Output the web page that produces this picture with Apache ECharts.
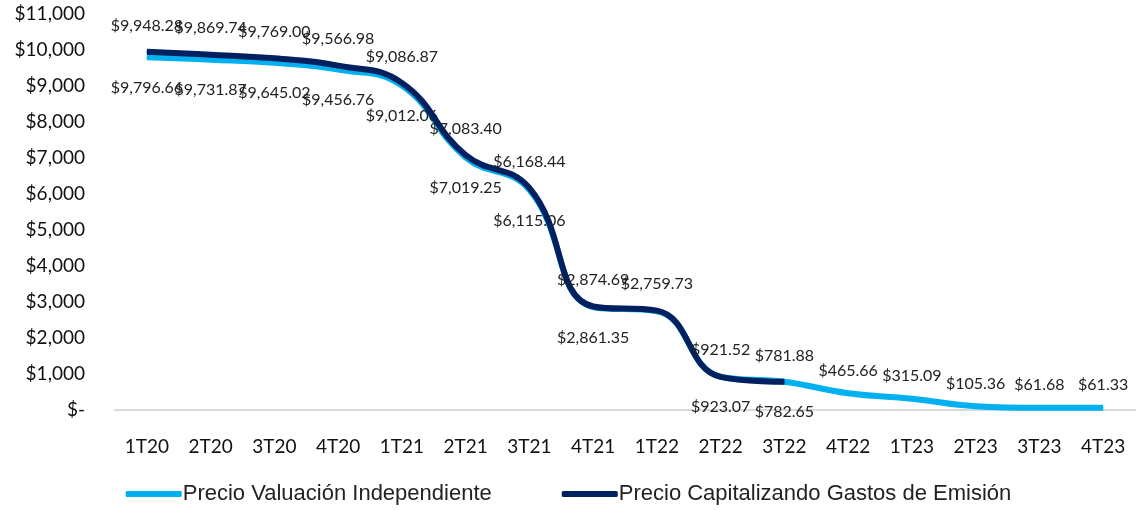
<!DOCTYPE html>
<html lang="es">
<head>
    <meta charset="UTF-8">
    <title>Precio</title>
    <script src="https://cdn.jsdelivr.net/npm/echarts@6/dist/echarts.min.js"></script>
    <style>
        * { margin: 0; padding: 0; }
        body { background: #fff; }
        #chart { width: 1137px; height: 510px; }
    </style>
</head>
<body>
    <div id="chart"></div>
<script>
    var quarters = ['1T20', '2T20', '3T20', '4T20', '1T21', '2T21', '3T21', '4T21',
        '1T22', '2T22', '3T22', '4T22', '1T23', '2T23', '3T23', '4T23'];
    // Precio Valuación Independiente
    var valuacion = [9796.66, 9731.87, 9645.02, 9456.76, 9012.06, 7019.25, 6115.06, 2861.35,
        2745.00, 923.07, 782.65, 465.66, 315.09, 105.36, 61.68, 61.33];
    // Precio Capitalizando Gastos de Emisión (solo hasta 3T22)
    var capitalizando = [9948.28, 9869.74, 9769.00, 9566.98, 9086.87, 7083.40, 6168.44, 2874.69,
        2759.73, 921.52, 781.88];
    // punto sin etiqueta visible en la imagen
    var hiddenLabel = ['1T22'];
    var yTicks = [0, 1000, 2000, 3000, 4000, 5000, 6000, 7000, 8000, 9000, 10000, 11000];

    function money(v) {
        return '$' + v.toLocaleString('en-US', { minimumFractionDigits: 2, maximumFractionDigits: 2 });
    }

    // etiquetas abajo mientras la otra serie existe, arriba despues
    var lightData = valuacion.map(function (v, i) {
        var below = i < capitalizando.length;
        var item = { value: v, label: { position: below ? 'bottom' : 'top', distance: below ? 22 : 14 } };
        if (hiddenLabel.indexOf(quarters[i]) >= 0) item.label.show = false;
        return item;
    });

    var chart = echarts.init(document.getElementById('chart'));
    var font = 'Lato, "Noto Sans", sans-serif';

    chart.setOption({
        animation: false,
        grid: { left: 115, right: 2, top: 14, bottom: 100 },
        legend: {
            bottom: 0,
            left: 'center',
            itemWidth: 56,
            itemHeight: 6,
            itemGap: 70,
            icon: 'roundRect',
            textStyle: { fontFamily: '"Liberation Sans", sans-serif', fontSize: 22, color: '#222', padding: [0, 0, 0, -4] },
            data: ['Precio Valuación Independiente', 'Precio Capitalizando Gastos de Emisión']
        },
        xAxis: {
            type: 'category',
            data: quarters,
            axisLine: { lineStyle: { color: '#d9d9d9', width: 2 } },
            axisTick: { show: false },
            axisLabel: { margin: 27, fontSize: 19, color: '#111', fontFamily: font }
        },
        yAxis: {
            type: 'value',
            min: yTicks[0],
            max: yTicks[yTicks.length - 1],
            interval: 1000,
            splitLine: { show: false },
            axisLabel: {
                margin: 30,
                fontSize: 19,
                color: '#111',
                fontFamily: font,
                formatter: function (v) {
                    return v === 0 ? '$-' : '$' + v.toLocaleString('en-US');
                }
            }
        },
        series: [
            {
                name: 'Precio Valuación Independiente',
                type: 'line',
                smooth: 0.45,
                symbol: 'circle',
                symbolSize: 1,
                showSymbol: true,
                data: lightData,
                itemStyle: { color: '#00b0f0' },
                lineStyle: { width: 6, color: '#00b0f0' },
                label: { show: true, fontSize: 16, color: '#222', fontFamily: font, formatter: function (p) { return money(p.value); } },
                labelLayout: { hideOverlap: false },
                z: 2
            },
            {
                name: 'Precio Capitalizando Gastos de Emisión',
                type: 'line',
                smooth: 0.45,
                symbol: 'circle',
                symbolSize: 1,
                showSymbol: true,
                data: capitalizando,
                itemStyle: { color: '#002060' },
                lineStyle: { width: 6, color: '#002060' },
                label: { show: true, position: 'top', distance: 18, fontSize: 16, color: '#222', fontFamily: font, formatter: function (p) { return money(p.value); } },
                labelLayout: { hideOverlap: false },
                z: 3
            }
        ]
    });
</script>
</body>
</html>
